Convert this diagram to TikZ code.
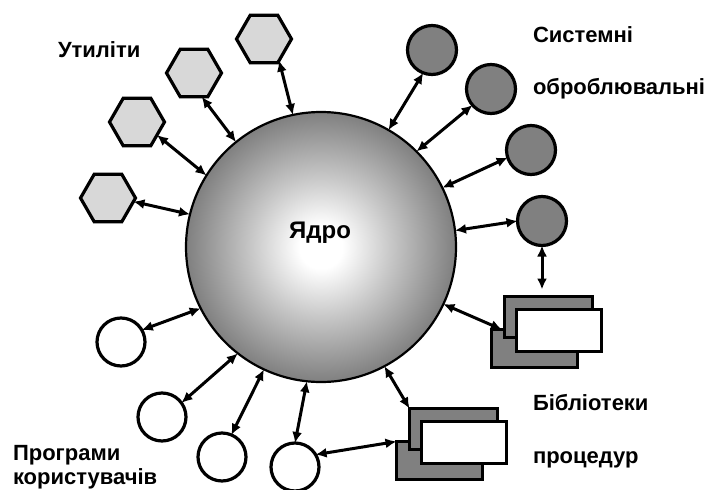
\documentclass[tikz,border=0pt]{standalone}
\usepackage{fontspec}
\setmainfont{Liberation Sans}
\usetikzlibrary{arrows.meta,shapes.geometric,calc}
\definecolor{hexgray}{HTML}{D8D8D8}
\definecolor{dgray}{HTML}{808080}
\pgfdeclareradialshading{coreshade}{\pgfpoint{0bp}{0bp}}{color(0bp)=(white); color(4bp)=(white); color(13bp)=(black!22); color(25bp)=(black!50); color(50bp)=(black!50)}
\begin{document}
\begin{tikzpicture}[x=1pt,y=-1pt,
  every node/.style={inner sep=0pt, outer sep=0pt},
  hexa/.style={regular polygon, regular polygon sides=6, minimum size=55pt, draw, line width=3.2pt, fill=hexgray},
  dcirc/.style={circle, minimum size=49pt, draw, line width=3.2pt, fill=dgray},
  wcirc/.style={circle, minimum size=48pt, draw, line width=3.2pt, fill=white},
  boxd/.style={rectangle, draw, line width=3.2pt, fill=dgray},
  boxw/.style={rectangle, draw, line width=3.2pt, fill=white},
  link/.style={line width=3pt, {Latex[length=11pt,width=10pt]}-{Latex[length=11pt,width=10pt]}},
  lab/.style={anchor=base west, font=\fontsize{22}{26}\selectfont\bfseries}
]
\path[use as bounding box] (0,0) rectangle (715,490);

% core
\node[circle, minimum size=270pt, draw, line width=2.2pt, shading=coreshade] (core) at (321,247) {};
\node[anchor=base, font=\fontsize{24}{28}\selectfont\bfseries] (coretext) at (320,238) {Ядро};

% utilities (hexagons)
\node[hexa] (h1) at (264,39) {};
\node[hexa] (h2) at (194,73) {};
\node[hexa] (h3) at (137,122) {};
\node[hexa] (h4) at (108,198) {};

% system processing (dark circles)
\node[dcirc] (d1) at (432,50) {};
\node[dcirc] (d2) at (491,89) {};
\node[dcirc] (d3) at (531,150) {};
\node[dcirc] (d4) at (542,221) {};

% user programs (white circles)
\node[wcirc] (w1) at (121,342) {};
\node[wcirc] (w2) at (162,417) {};
\node[wcirc] (w3) at (222,457) {};
\node[wcirc] (w4) at (295,467) {};

% libraries (stacked boxes)
\node[boxd, minimum width=86pt, minimum height=38pt] (b1b) at (534.5,348.5) {};
\node[boxd, minimum width=88pt, minimum height=41pt] (b1m) at (548.5,317) {};
\node[boxw, minimum width=85pt, minimum height=42pt] (b1f) at (559,330.5) {};
\node[boxd, minimum width=86pt, minimum height=38pt] (b2b) at (439.5,460.5) {};
\node[boxd, minimum width=88pt, minimum height=41pt] (b2m) at (453.5,429) {};
\node[boxw, minimum width=85pt, minimum height=42pt] (b2f) at (464,442.5) {};

% connectors
\draw[link] (h1.-55) -- (core.102);
\draw[link] (h2.-72) -- (core.129);
\draw[link] (h3.-33) -- (core.148);
\draw[link] (h4.-8) -- (core.166);
\draw[link] (d1.-111) -- (core.60);
\draw[link] (d2.-139) -- (core.45);
\draw[link] (d3.-162) -- (core.26);
\draw[link] (d4.180) -- (core.7);
\draw[link] (d4.south) -- ($(b1m.north -| d4.south)+(0,-7)$);
\draw[link] ($(b1b.north west)!0.12!(b1b.north east)$) -- (core.-25);
\draw[link] (b2m.north west) -- (core.-62);
\draw[link] (b2b.north west) -- (w4.31);
\draw[link] (w4.north) -- (core.-96);
\draw[link] (w3.67) -- (core.-115);
\draw[link] (w2.36) -- (core.-128);
\draw[link] (w1.30) -- (core.-153);

% labels
\node[lab] (tutil) at (58,57) {Утиліти};
\node[lab] (tsys1) at (533,42) {Системні};
\node[lab] (tsys2) at (533,94) {оброблювальні};
\node[lab] (tlib1) at (533,410) {Бібліотеки};
\node[lab] (tlib2) at (533,463) {процедур};
\node[lab] (tprog1) at (13,460) {Програми};
\node[lab] (tprog2) at (13,484) {користувачів};
\end{tikzpicture}
\end{document}
